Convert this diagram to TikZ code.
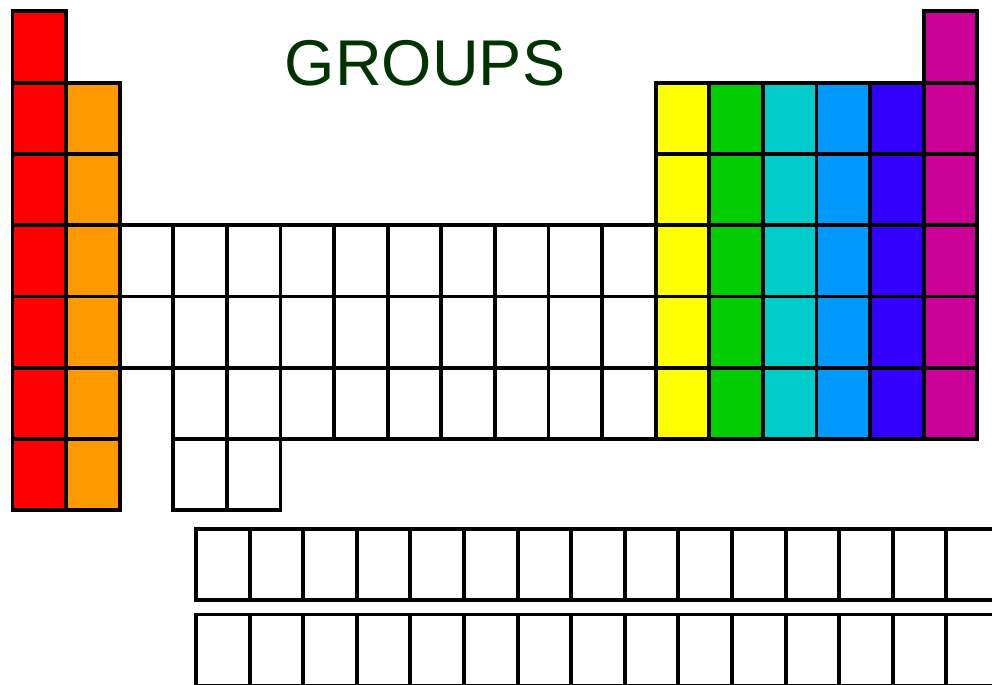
\documentclass[tikz,border=0pt]{standalone}
\usepackage{fontspec}
\setmainfont{Liberation Sans}
\usetikzlibrary{positioning}

\definecolor{grpred}{HTML}{FF0000}
\definecolor{grporange}{HTML}{FF9900}
\definecolor{grpyellow}{HTML}{FFFF00}
\definecolor{grpgreen}{HTML}{00CC00}
\definecolor{grpcyan}{HTML}{00CCCC}
\definecolor{grpblue}{HTML}{0099FF}
\definecolor{grpindigo}{HTML}{3300FF}
\definecolor{grpmagenta}{HTML}{CC0099}
\definecolor{titlegreen}{HTML}{003300}

\begin{document}
\begin{tikzpicture}[
    x=0.025cm, y=-0.025cm,
    cell/.style={draw, line width=2.8pt, fill=white},
    title/.style={font=\fontsize{46}{46}\selectfont, text=titlegreen, inner sep=0pt}
]
\useasboundingbox (0,0) rectangle (992,684);
\clip (0,0) rectangle (992,684);

% coloured groups
\foreach \c/\rtop/\rbot/\col in {1/1/7/grpred, 2/2/7/grporange, 13/2/6/grpyellow, 14/2/6/grpgreen,
                                 15/2/6/grpcyan, 16/2/6/grpblue, 17/2/6/grpindigo, 18/1/6/grpmagenta}
  \foreach \r in {\rtop,...,\rbot}
    \draw[cell, fill=\col] ({12.5+(\c-1)*53.6}, {11.3+(\r-1)*71.3}) rectangle ++(53.6,71.3);

% transition block
\foreach \c/\rtop/\rbot in {3/4/5, 4/4/7, 5/4/7, 6/4/6, 7/4/6, 8/4/6, 9/4/6, 10/4/6, 11/4/6, 12/4/6}
  \foreach \r in {\rtop,...,\rbot}
    \draw[cell] ({12.5+(\c-1)*53.6}, {11.3+(\r-1)*71.3}) rectangle ++(53.6,71.3);

% lanthanides and actinides
\foreach \y in {529, 614.5}
  \foreach \k in {1,...,15}
    \draw[cell] ({196+(\k-1)*53.6}, \y) rectangle ++(53.6,71.3);

\node[title] (groups) at (425,63.5) {GROUPS};
\end{tikzpicture}
\end{document}
